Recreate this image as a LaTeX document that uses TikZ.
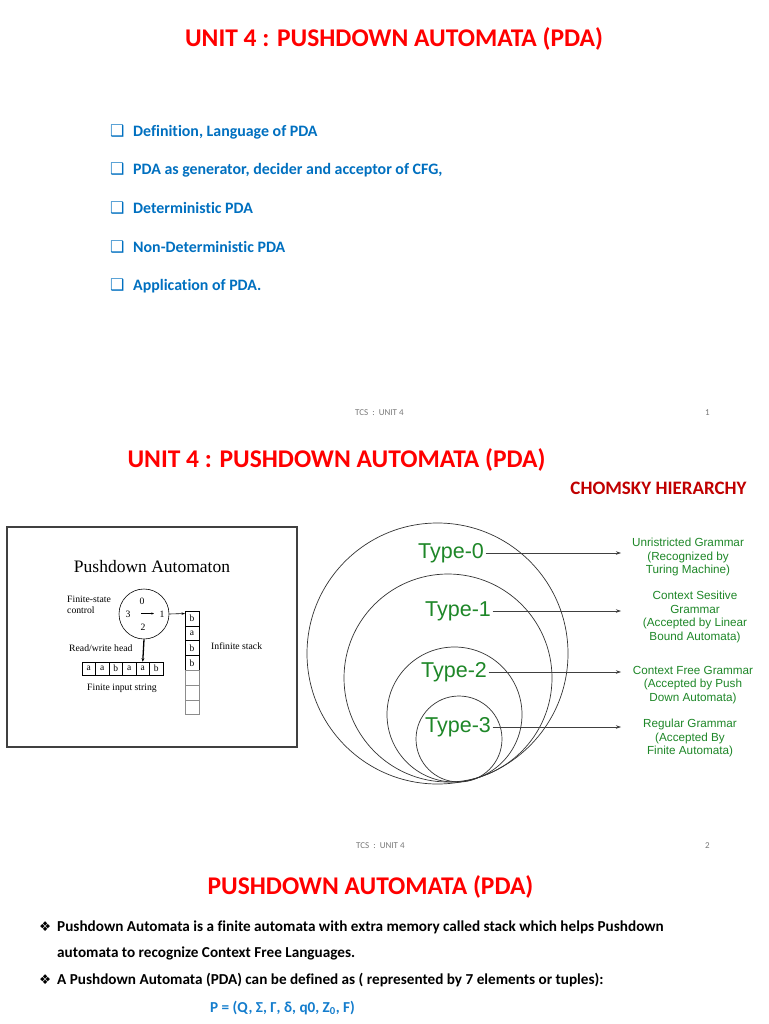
\documentclass[tikz,border=0pt]{standalone}
\usepackage{fontspec}
\setmainfont{Carlito}[Ligatures={NoCommon}]
\newfontfamily\arialf{Liberation Sans}
\newfontfamily\timesf{Liberation Serif}
\newfontfamily\dejavu{DejaVu Sans}
\usetikzlibrary{arrows.meta}
\definecolor{titlered}{RGB}{255,0,0}
\definecolor{darkred}{RGB}{192,0,0}
\definecolor{bulblue}{RGB}{0,112,192}
\definecolor{pblue}{RGB}{20,125,205}
\definecolor{tgreen}{RGB}{30,135,40}
\definecolor{footgray}{RGB}{120,120,120}
\tikzset{
  slidetitle/.style={anchor=base, inner sep=0, text=titlered, font=\fontsize{25.5}{30}\selectfont\bfseries},
  bullettext/.style={anchor=base west, inner sep=0, text=bulblue, font=\fontsize{15.9}{19}\selectfont\bfseries},
  bulletbox/.style={anchor=base west, inner sep=0, text=bulblue, font=\dejavu\fontsize{16}{18}\selectfont\bfseries},
  footer/.style={anchor=base west, inner sep=0, text=footgray, font=\fontsize{9}{11}\selectfont},
  bodytext/.style={anchor=base west, inner sep=0, text=black, font=\fontsize{15.2}{18}\selectfont\bfseries},
  diamondbullet/.style={anchor=base west, inner sep=0, text=black, font=\dejavu\fontsize{13.5}{15}\selectfont},
  serifsmall/.style={inner sep=0, font=\timesf\fontsize{9.7}{11}\selectfont},
  cell/.style={draw=black, line width=0.6, minimum width=14, minimum height=14.8, inner sep=0, font=\timesf\fontsize{9.5}{10}\selectfont},
  emptycell/.style={draw=black!45, line width=0.5, minimum width=14, minimum height=14.8, inner sep=0},
  tapecell/.style={draw=black, line width=0.6, minimum width=13.5, minimum height=13, inner sep=0, font=\timesf\fontsize{9.5}{10}\selectfont},
  ring/.style={draw=black!80, line width=0.7, circle, inner sep=0},
  typelbl/.style={inner sep=1.5, text=tgreen, font=\arialf\fontsize{21.5}{24}\selectfont},
  gram/.style={inner sep=0, align=center, text=tgreen, font=\arialf\fontsize{11.7}{13.7}\selectfont},
  typearrow/.style={draw=black!75, line width=0.7, -{Stealth[length=5pt,width=3.5pt]}},
}
\begin{document}
\begin{tikzpicture}[x=1pt,y=-1pt]
\useasboundingbox (0,0) rectangle (768,1024);
\fill[white] (0,0) rectangle (768,1024);

% ---------- slide 1 ----------
\node[slidetitle] (title1) at (394,47) {UNIT 4 : PUSHDOWN AUTOMATA (PDA)};
\node[bulletbox] (b1) at (110,137) {❑};
\node[bullettext] (l1) at (133,137) {Definition, Language of PDA};
\node[bulletbox] (b2) at (110,175) {❑};
\node[bullettext] (l2) at (133,175) {PDA as generator, decider and acceptor of CFG,};
\node[bulletbox] (b3) at (110,214) {❑};
\node[bullettext] (l3) at (133,214) {Deterministic PDA};
\node[bulletbox] (b4) at (110,252) {❑};
\node[bullettext] (l4) at (133,252) {Non-Deterministic PDA};
\node[bulletbox] (b5) at (110,290) {❑};
\node[bullettext] (l5) at (133,290) {Application of PDA.};
\node[footer] (f1) at (355,415) {TCS~~:~~UNIT 4};
\node[footer] (n1) at (705,415) {1};

% ---------- slide 2 ----------
\node[slidetitle] (title2) at (336.5,467) {UNIT 4 : PUSHDOWN AUTOMATA (PDA)};
\node[anchor=base, inner sep=0, text=darkred, font=\fontsize{19}{22}\selectfont\bfseries] (chom) at (658.5,494) {CHOMSKY HIERARCHY};

% PDA picture
\draw[black!75, line width=1.2] (7,527) rectangle (297,747);
\node[anchor=base, inner sep=0, font=\timesf\fontsize{17.5}{20}\selectfont] (pdat) at (152,572) {Pushdown Automaton};
\node[circle, draw=black, line width=0.6, minimum size=50, inner sep=0] (fsc) at (144,614) {};
\node[serifsmall] (q0) at (142,601) {0};
\node[serifsmall] (q3) at (128,614) {3};
\node[serifsmall] (q1) at (162,614) {1};
\node[serifsmall] (q2) at (143,627) {2};
\coordinate (ca) at (141,613.5);
\coordinate (cb) at (154,613.5);
\draw[line width=0.4, -{Stealth[length=2.5pt,width=2pt]}] (ca) -- (cb);
\node[serifsmall, anchor=west, align=left] (fsl) at (67,605) {Finite-state\\control};
\node[cell] (s1) at (192,618.4) {b};
\node[cell] (s2) at (192,633.2) {a};
\node[cell] (s3) at (192,648.0) {b};
\node[cell] (s4) at (192,662.8) {b};
\node[emptycell] (s5) at (192,677.6) {};
\node[emptycell] (s6) at (192,692.4) {};
\node[emptycell] (s7) at (192,707.2) {};
\coordinate (stktop) at (185,613.5);
\draw[line width=0.6, -{Stealth[length=3.5pt,width=2.5pt]}] (fsc.east) -- (stktop);
\node[serifsmall, anchor=west] (infs) at (211,646) {Infinite stack};
\node[tapecell] (t1) at (88.75,668.5) {a};
\node[tapecell] (t2) at (102.25,668.5) {a};
\node[tapecell] (t3) at (115.75,668.5) {b};
\node[tapecell] (t4) at (129.25,668.5) {a};
\node[tapecell] (t5) at (142.75,668.5) {a};
\node[tapecell] (t6) at (156.25,668.5) {b};
\draw[line width=1.3, -{Stealth[length=3.5pt,width=3pt]}] (fsc.south) -- (t5.north);
\node[serifsmall, anchor=west] (rwh) at (69,648) {Read/write head};
\node[serifsmall] (fis) at (122,688) {Finite input string};

% Chomsky hierarchy
\node[ring, minimum size=261] (c0) at (437.5,653.5) {};
\node[ring, minimum size=208] (c1) at (448,678) {};
\node[ring, minimum size=135] (c2) at (454.5,714.5) {};
\node[ring, minimum size=86] (c3) at (459,739) {};
\node[typelbl] (ty0) at (451,553) {Type-0};
\node[typelbl] (ty1) at (458,611) {Type-1};
\node[typelbl] (ty2) at (454,672) {Type-2};
\node[typelbl] (ty3) at (458,727) {Type-3};
\coordinate (a0) at (621,553);
\coordinate (a1) at (621,611);
\coordinate (a2) at (621,672);
\coordinate (a3) at (621,727);
\draw[typearrow] (ty0.east) -- (a0);
\draw[typearrow] (ty1.east) -- (a1);
\draw[typearrow] (ty2.east) -- (a2);
\draw[typearrow] (ty3.east) -- (a3);
\node[gram] (g0) at (688,557) {Unristricted Grammar\\(Recognized by\\Turing Machine)};
\node[gram] (g1) at (695,617) {Context Sesitive\\Grammar\\(Accepted by Linear\\Bound Automata)};
\node[gram] (g2) at (693,685) {Context Free Grammar\\(Accepted by Push\\Down Automata)};
\node[gram] (g3) at (690,738) {Regular Grammar\\(Accepted By\\Finite Automata)};
\node[footer] (f2) at (356,848) {TCS~~:~~UNIT 4};
\node[footer] (n2) at (705,848) {2};

% ---------- slide 3 ----------
\node[slidetitle] (title3) at (370.5,894) {PUSHDOWN AUTOMATA (PDA)};
\node[diamondbullet] (d1) at (39,931) {❖};
\node[bodytext] (p1) at (57,931) {Pushdown Automata is a finite automata with extra memory called stack which helps Pushdown};
\node[bodytext] (p2) at (57,957) {automata to recognize Context Free Languages.};
\node[diamondbullet] (d2) at (39,984) {❖};
\node[bodytext] (p3) at (57,984) {A Pushdown Automata (PDA) can be defined as ( represented by 7 elements or tuples):};
\node[bodytext, text=pblue] (pdef) at (210,1012) {P = (Q, Σ, Γ, δ, q0, Z\textsubscript{0}, F)};
\end{tikzpicture}
\end{document}
